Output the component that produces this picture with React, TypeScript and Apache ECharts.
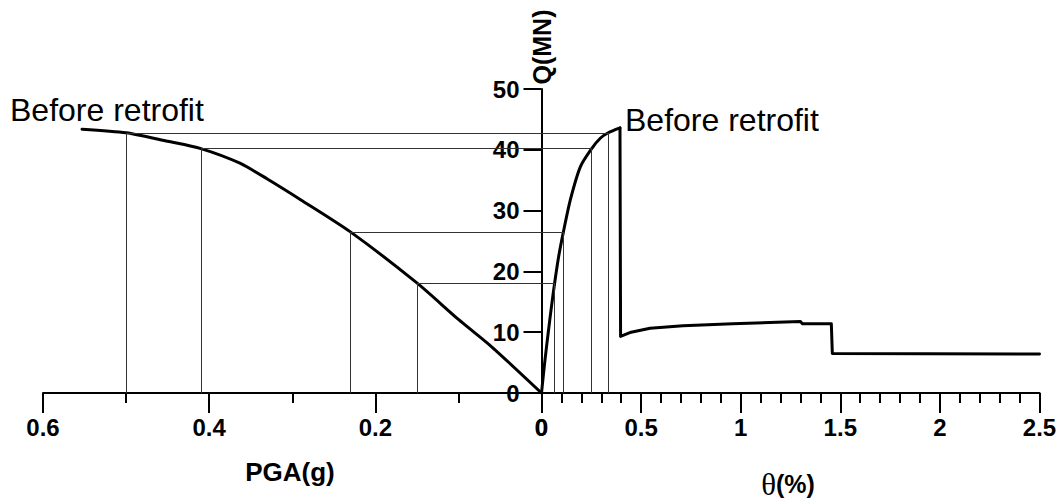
import React, { useEffect, useRef } from "react";
import * as echarts from "echarts";

// Left panel: PGA (g) vs Q (MN)
const pgaValues = [0.553, 0.5, 0.45, 0.41, 0.363, 0.33, 0.29, 0.23, 0.15, 0.1, 0.06, 0];
const qLeftValues = [43.4, 42.8, 41.4, 40.2, 37.8, 35.2, 31.8, 26.5, 18.1, 12.1, 7.6, 0];

// Right panel: theta (%) vs Q (MN) — rising branch
const thetaRise = [0, 0.016, 0.034, 0.05, 0.066, 0.087, 0.11, 0.145, 0.195, 0.252, 0.295, 0.335, 0.394];
const qRise = [0, 5, 10, 14.2, 18.1, 22.6, 26.5, 31.8, 37.2, 40.2, 41.9, 42.8, 43.6];

// Right panel: post-peak branch
const thetaTail = [0.394, 0.397, 0.45, 0.545, 0.71, 0.96, 1.3, 1.31, 1.455, 1.46, 2.5];
const qTail = [43.6, 9.3, 10.0, 10.65, 11.05, 11.37, 11.75, 11.37, 11.37, 6.5, 6.4];

// Guide (projection) points
const markPga = [0.5, 0.41, 0.23, 0.15];
const markTheta = [0.335, 0.252, 0.11, 0.066];
const markQ = [42.8, 40.2, 26.5, 18.1];

const yTicks = [0, 10, 20, 30, 40, 50];

const FONT = '"Liberation Sans", Arial, sans-serif';
const GRID_TOP = 89;
const GRID_H = 304;
const AXIS_X = 541.5;

export default function App() {
  const ref = useRef<HTMLDivElement>(null);

  useEffect(() => {
    if (!ref.current) return;
    const chart = echarts.init(ref.current, undefined, { renderer: "svg" });

    const tickLabel = {
      fontFamily: FONT,
      fontWeight: "bold" as const,
      fontSize: 24,
      color: "#000",
    };

    const guideStyle = { color: "#333", width: 1, type: "solid" as const };

    const leftGuides: any[] = [];
    const rightGuides: any[] = [];
    markQ.forEach((q, i) => {
      leftGuides.push([{ coord: [markPga[i], 0] }, { coord: [markPga[i], q] }]);
      leftGuides.push([{ coord: [markPga[i], q] }, { coord: [0, q] }]);
      rightGuides.push([{ coord: [markTheta[i], 0] }, { coord: [markTheta[i], q] }]);
      rightGuides.push([{ coord: [0, q] }, { coord: [markTheta[i], q] }]);
    });

    const option: any = {
      animation: false,
      backgroundColor: "#fff",
      grid: [
        { left: 43, width: AXIS_X - 43, top: GRID_TOP, height: GRID_H, outerBoundsMode: "none", containLabel: false },
        { left: AXIS_X, width: 1039.5 - AXIS_X, top: GRID_TOP, height: GRID_H, outerBoundsMode: "none", containLabel: false },
      ],
      xAxis: [
        {
          type: "value",
          gridIndex: 0,
          inverse: true,
          min: 0,
          max: 0.6,
          interval: 0.2,
          axisLine: { show: true, onZero: false, lineStyle: { color: "#000", width: 2 } },
          axisTick: { show: true, length: 20, lineStyle: { color: "#000", width: 2 } },
          minorTick: { show: true, splitNumber: 2, length: 10, lineStyle: { color: "#000", width: 2 } },
          axisLabel: { ...tickLabel, margin: 22, formatter: (v: number) => String(Math.round(v * 10) / 10) },
          splitLine: { show: false },
        },
        {
          type: "value",
          gridIndex: 1,
          min: 0,
          max: 2.5,
          interval: 0.5,
          axisLine: { show: true, onZero: false, lineStyle: { color: "#000", width: 2 } },
          axisTick: { show: true, length: 20, lineStyle: { color: "#000", width: 2 } },
          minorTick: { show: true, splitNumber: 5, length: 10, lineStyle: { color: "#000", width: 2 } },
          axisLabel: { ...tickLabel, margin: 22, formatter: (v: number) => String(Math.round(v * 10) / 10) },
          splitLine: { show: false },
        },
      ],
      yAxis: [
        {
          type: "value",
          gridIndex: 0,
          min: 0,
          max: 50,
          interval: 10,
          show: false,
        },
        {
          type: "value",
          gridIndex: 1,
          position: "left",
          min: yTicks[0],
          max: yTicks[yTicks.length - 1],
          interval: 10,
          axisLine: { show: true, onZero: false, lineStyle: { color: "#000", width: 2 } },
          axisTick: { show: true, length: 18, lineStyle: { color: "#000", width: 2 } },
          axisLabel: { ...tickLabel, margin: 22 },
          splitLine: { show: false },
        },
      ],
      series: [
        {
          type: "line",
          xAxisIndex: 0,
          yAxisIndex: 0,
          data: [],
          z: 1,
          silent: true,
          markLine: {
            silent: true,
            symbol: ["none", "none"],
            label: { show: false },
            lineStyle: guideStyle,
            data: leftGuides,
          },
        },
        {
          type: "line",
          xAxisIndex: 1,
          yAxisIndex: 1,
          data: [],
          z: 1,
          silent: true,
          markLine: {
            silent: true,
            symbol: ["none", "none"],
            label: { show: false },
            lineStyle: guideStyle,
            data: rightGuides,
          },
        },
        {
          type: "line",
          name: "PGA",
          xAxisIndex: 0,
          yAxisIndex: 0,
          z: 3,
          data: pgaValues.map((x, i) => [x, qLeftValues[i]]),
          smooth: 0.25,
          showSymbol: false,
          symbol: "none",
          lineStyle: { color: "#000", width: 3, cap: "round", join: "round" },
        },
        {
          type: "line",
          name: "rise",
          xAxisIndex: 1,
          yAxisIndex: 1,
          z: 3,
          data: thetaRise.map((x, i) => [x, qRise[i]]),
          smooth: 0.25,
          showSymbol: false,
          symbol: "none",
          lineStyle: { color: "#000", width: 3, cap: "round", join: "round" },
        },
        {
          type: "line",
          name: "tail",
          xAxisIndex: 1,
          yAxisIndex: 1,
          z: 3,
          data: thetaTail.map((x, i) => [x, qTail[i]]),
          showSymbol: false,
          symbol: "none",
          lineStyle: { color: "#000", width: 3, cap: "round", join: "round" },
        },
      ],
      graphic: [
        {
          type: "text",
          x: 10,
          y: 110,
          style: {
            text: "Before retrofit",
            fontFamily: FONT,
            fontSize: 32,
            fill: "#000",
            align: "left",
            verticalAlign: "middle",
            textAlign: "left",
            textVerticalAlign: "middle",
          },
        },
        {
          type: "text",
          x: 625,
          y: 120,
          style: {
            text: "Before retrofit",
            fontFamily: FONT,
            fontSize: 32,
            fill: "#000",
            align: "left",
            verticalAlign: "middle",
            textAlign: "left",
            textVerticalAlign: "middle",
          },
        },
        {
          type: "text",
          x: 542,
          y: 47,
          rotation: Math.PI / 2,
          style: {
            text: "Q(MN)",
            fontFamily: FONT,
            fontWeight: "bold",
            fontSize: 25,
            fill: "#000",
            align: "center",
            verticalAlign: "middle",
            textAlign: "center",
            textVerticalAlign: "middle",
          },
        },
        {
          type: "text",
          x: 290,
          y: 472,
          style: {
            text: "PGA(g)",
            fontFamily: FONT,
            fontWeight: "bold",
            fontSize: 26,
            fill: "#000",
            align: "center",
            verticalAlign: "middle",
            textAlign: "center",
            textVerticalAlign: "middle",
          },
        },
        {
          type: "text",
          x: 788,
          y: 484,
          style: {
            text: "{t|θ}{p|(%)}",
            fill: "#000",
            align: "center",
            verticalAlign: "middle",
            textAlign: "center",
            textVerticalAlign: "middle",
            rich: {
              t: { fontFamily: '"Liberation Serif", "Times New Roman", serif', fontSize: 31, fill: "#000" },
              p: { fontFamily: FONT, fontWeight: "bold", fontSize: 25, fill: "#000" },
            },
          },
        },
      ],
    };

    chart.setOption(option);
    return () => chart.dispose();
  }, []);

  return (
    <div
      ref={ref}
      style={{ position: "absolute", left: 0, top: 0, width: 1063, height: 500, background: "#fff" }}
    />
  );
}
